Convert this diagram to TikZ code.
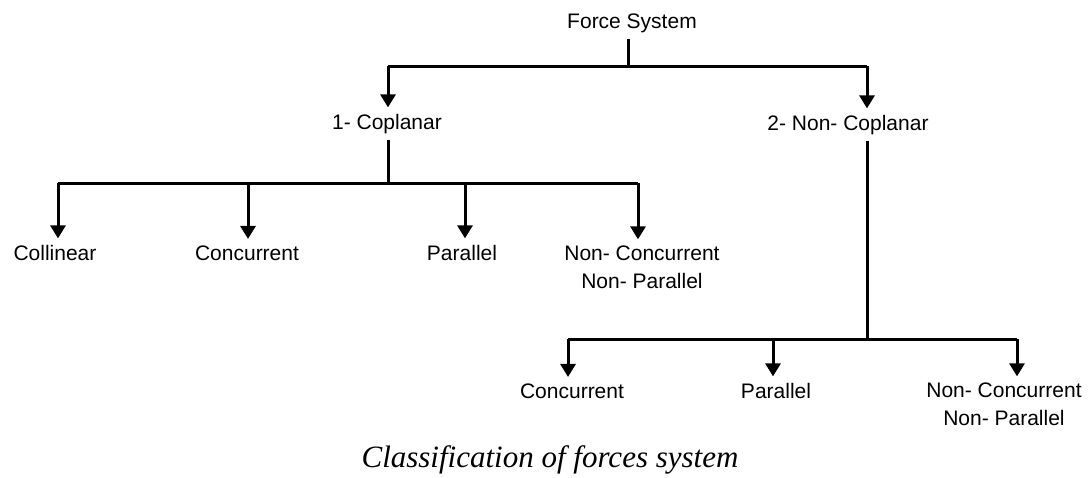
\documentclass[tikz,border=0pt]{standalone}
\usepackage{fontspec}
\setmainfont{Liberation Serif}
\setsansfont{Liberation Sans}
\usetikzlibrary{arrows.meta}

\begin{document}
\begin{tikzpicture}[x=0.5pt,y=-0.5pt]
\tikzstyle{every node}+=[inner xsep=0pt,inner ysep=3pt,anchor=base,align=center,font=\sffamily\fontsize{10.5}{13.8}\selectfont]
\tikzstyle{line}=[black,line width=1.5pt]
\tikzstyle{arr}=[line,-{Triangle[width=7.5pt,length=6.5pt]}]

\useasboundingbox (0,0) rectangle (1091,477);

\node (fs) at (632,28) {Force System};
\node (cop) at (387,129) {1- Coplanar};
\node (ncop) at (848,130) {2- Non- Coplanar};
\node (col) at (55,260) {Collinear};
\node (con) at (247,260) {Concurrent};
\node (par) at (462,260) {Parallel};
\node (nn) at (642,288) {Non- Concurrent\\Non- Parallel};
\node (con2) at (572,398) {Concurrent};
\node (par2) at (776,398) {Parallel};
\node (nn2) at (1004,425) {Non- Concurrent\\Non- Parallel};
\node[font=\rmfamily\itshape\fontsize{15.5}{18}\selectfont] (cap) at (550,467) {Classification of forces system};

\coordinate (t0) at (628,66);
\coordinate (t1) at (388,66);
\coordinate (t2) at (867,66);
\coordinate (m1) at (58,183);
\coordinate (m2) at (248,183);
\coordinate (m3) at (465,183);
\coordinate (m4) at (638,183);
\coordinate (b0) at (867,339);
\coordinate (b1) at (568,339);
\coordinate (b2) at (773,339);
\coordinate (b3) at (1017,339);

\draw [line] (t0 |- fs.south) -- (t0);
\draw [line] (t1) -- (t2);
\draw [arr] (t1) -- (t1 |- cop.north);
\draw [arr] (t2) -- (t2 |- ncop.north);

\draw [line] (t1 |- cop.south) -- (t1 |- m1);
\draw [line] (m1) -- (m4);
\draw [arr] (m1) -- (m1 |- col.north);
\draw [arr] (m2) -- (m2 |- con.north);
\draw [arr] (m3) -- (m3 |- par.north);
\draw [arr] (m4) -- (m4 |- nn.north);

\draw [line] (t2 |- ncop.south) -- (b0);
\draw [line] (b1) -- (b3);
\draw [arr] (b1) -- (b1 |- con2.north);
\draw [arr] (b2) -- (b2 |- par2.north);
\draw [arr] (b3) -- (b3 |- nn2.north);
\end{tikzpicture}
\end{document}
